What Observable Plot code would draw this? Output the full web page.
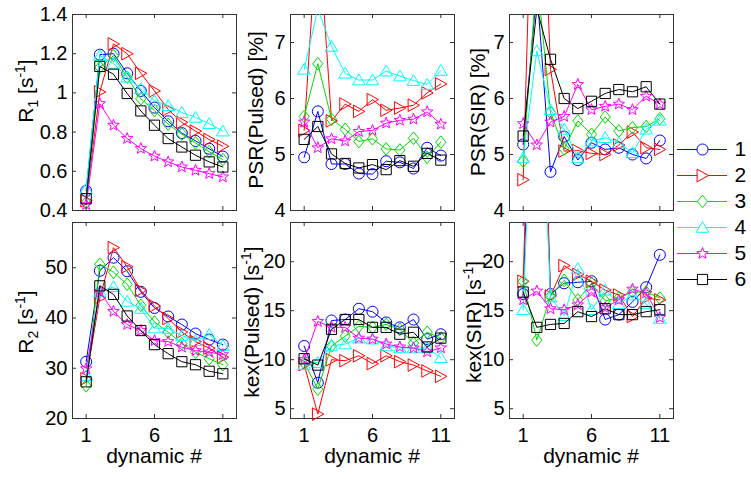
<!DOCTYPE html>
<html><head><meta charset="utf-8">
<script src="https://cdn.jsdelivr.net/npm/d3@7"></script>
<script src="https://cdn.jsdelivr.net/npm/@observablehq/plot@0.6"></script>
<style>
html,body{margin:0;padding:0;background:#fff;overflow:hidden}
#chart{position:relative;width:751px;height:479px;font-family:"Liberation Sans",Arial,Helvetica,sans-serif}
#chart svg{position:absolute;overflow:visible}
</style></head><body><div id="chart"></div>
<script>
// ---------- data ----------
const dynamics = [1,2,3,4,5,6,7,8,9,10,11];
const seriesNames = ["1","2","3","4","5","6"];
const seriesColors = ["#0000ff","#ff0000","#00dd00","#00ffff","#ff00ff","#000000"];
const xTicks = [1,6,11];

const R1 = [
  [0.50,1.195,1.20,1.10,1.01,0.925,0.855,0.795,0.755,0.715,0.675],
  [0.45,1.005,1.25,1.20,1.10,1.01,0.915,0.85,0.805,0.762,0.728],
  [0.44,1.13,1.19,1.08,0.97,0.91,0.84,0.79,0.745,0.70,0.66],
  [0.51,1.19,1.15,1.08,1.02,0.96,0.935,0.90,0.875,0.843,0.805],
  [0.43,0.945,0.835,0.767,0.716,0.677,0.648,0.622,0.605,0.588,0.571],
  [0.46,1.135,1.095,0.997,0.908,0.835,0.767,0.724,0.682,0.648,0.622]
];
const PSR_PULSED = [
  [4.95,5.77,4.83,4.83,4.66,4.65,4.88,4.86,4.75,5.12,4.98],
  [5.43,9.2,5.6,5.9,5.77,5.98,5.79,5.83,5.88,6.1,6.26],
  [5.68,6.62,5.63,5.45,5.23,5.28,5.1,5.08,5.29,4.95,5.22],
  [6.52,7.6,6.93,6.45,6.33,6.33,6.49,6.4,6.32,6.25,6.5],
  [5.58,5.12,5.28,5.24,5.41,5.43,5.56,5.61,5.63,5.76,5.54],
  [5.27,5.5,5.01,4.84,4.76,4.82,4.73,4.89,4.79,5.02,4.9]
];
const PSR_SIR = [
  [5.18,7.95,4.69,5.32,4.9,5.21,5.09,5.12,5.0,4.93,5.25],
  [4.55,13.0,6.52,5.06,5.07,5.02,5.0,5.17,5.4,5.12,5.09],
  [4.88,8.2,5.75,5.1,5.6,5.36,5.67,5.42,5.48,5.5,5.64],
  [4.94,6.85,5.8,5.45,4.94,5.24,5.3,5.21,5.03,5.45,5.61],
  [5.55,5.17,5.58,5.68,6.25,5.8,5.86,5.9,5.8,6.04,5.9],
  [5.33,7.6,6.7,6.0,5.82,5.95,6.09,6.16,6.12,6.21,5.9]
];
const R2 = [
  [31.3,49.4,52.0,49.3,45.2,42.0,40.3,38.7,36.9,35.7,34.7],
  [27.9,44.0,54.0,50.2,45.5,42.4,39.9,37.2,35.3,34.0,32.2],
  [26.5,50.7,49.1,46.7,42.5,39.2,37.2,34.9,33.2,31.9,30.7],
  [28.5,45.2,46.2,43.3,41.9,38.0,37.9,36.5,35.5,36.7,34.5],
  [29.9,45.2,41.3,38.7,37.5,35.5,35.3,34.2,33.5,33.2,32.7],
  [27.3,46.4,44.7,40.4,37.5,34.7,32.9,31.3,30.7,29.4,28.9]
];
const KEX_PULSED = [
  [11.4,7.65,14.0,14.1,15.2,14.9,13.8,13.3,14.1,12.1,12.6],
  [9.5,4.45,10.0,9.9,10.4,9.6,10.4,9.8,9.45,8.85,8.3],
  [9.7,7.0,11.4,12.4,13.4,13.3,13.6,13.1,11.7,12.8,12.2],
  [9.5,9.7,11.4,11.6,12.2,12.1,11.4,11.2,11.2,11.2,10.2],
  [10.0,13.9,13.3,13.3,12.2,12.1,11.6,11.3,11.2,10.8,11.2],
  [10.1,9.45,13.1,14.1,14.1,13.3,13.3,12.6,12.8,11.3,12.2]
];
const KEX_SIR = [
  [16.7,55,16.7,17.8,17.9,18.0,14.1,14.6,15.9,17.4,20.7],
  [18.0,65,16.5,19.6,18.7,18.0,17.1,16.6,14.4,16.3,16.1],
  [18.0,12.0,16.5,18.1,16.1,17.8,16.0,16.3,16.9,16.9,16.3],
  [15.1,50,16.4,14.5,19.3,15.1,17.1,15.7,16.6,15.7,14.2],
  [16.1,17.0,15.2,15.1,15.6,16.9,15.3,16.1,17.2,16.8,14.3],
  [16.9,13.3,13.6,13.7,14.9,14.4,15.2,14.6,14.6,14.9,15.1]
];
const R1_TICKS = [0.4,0.6,0.8,1,1.2,1.4];
const PSR_TICKS = [4,5,6,7];
const R2_TICKS = [20,30,40,50];
const KEX_TICKS = [5,10,15,20];

// ---------- marker symbols ----------
const rad = s => Math.sqrt(s / Math.PI);
const symCircle = {draw(c, s){const r = rad(s)*0.92; c.moveTo(r,0); c.arc(0,0,r,0,2*Math.PI); c.closePath();}};
const symTriRight = {draw(c, s){const r = rad(s); c.moveTo(r,0); c.lineTo(-r*0.9,-r*1.05); c.lineTo(-r*0.9,r*1.05); c.closePath();}};
const symDiamond = {draw(c, s){const r = rad(s); c.moveTo(0,-r*1.05); c.lineTo(r*0.85,0); c.lineTo(0,r*1.05); c.lineTo(-r*0.85,0); c.closePath();}};
const symTriUp = {draw(c, s){const r = rad(s); c.moveTo(0,-r); c.lineTo(r*1.05,r*0.8); c.lineTo(-r*1.05,r*0.8); c.closePath();}};
const symStar = {draw(c, s){const r = rad(s); for (let k = 0; k < 10; k++){const a = -Math.PI/2 + k*Math.PI/5; const rr = k%2 ? r*0.42 : r; const px = rr*Math.cos(a), py = rr*Math.sin(a); if (k) c.lineTo(px,py); else c.moveTo(px,py);} c.closePath();}};
const symSquare = {draw(c, s){const h = rad(s)*0.85; c.rect(-h,-h,2*h,2*h);}};
const seriesSymbols = [symCircle, symTriRight, symDiamond, symTriUp, symStar, symSquare];

// ---------- layout ----------
const FONT = '"Liberation Sans", Arial, Helvetica, sans-serif';
const AXC = "#333";
const FW = 164, FH = 196;
const colLeft = [72, 290, 509];
const rowTop = [14, 222];
const M = {l: 60, r: 12, t: 12, b: 40};
const chart = document.getElementById("chart");

const panels = [
  {data: R1, yDomain: [0.4,1.4], yTicks: R1_TICKS, col: 0, row: 0},
  {data: PSR_PULSED, yDomain: [4,7.5], yTicks: PSR_TICKS, col: 1, row: 0},
  {data: PSR_SIR, yDomain: [4,7.5], yTicks: PSR_TICKS, col: 2, row: 0},
  {data: R2, yDomain: [20,59], yTicks: R2_TICKS, col: 0, row: 1},
  {data: KEX_PULSED, yDomain: [4,24], yTicks: KEX_TICKS, col: 1, row: 1},
  {data: KEX_SIR, yDomain: [4,24], yTicks: KEX_TICKS, col: 2, row: 1}
];

function makePanel(p) {
  const [y0, y1] = p.yDomain;
  const marks = [Plot.frame({stroke: AXC, strokeWidth: 1})];
  for (let i = 0; i < 6; i++) {
    const sd = p.data[i].map((v, j) => ({x: dynamics[j], y: v}));
    marks.push(Plot.line(sd, {x: "x", y: "y", stroke: seriesColors[i], strokeWidth: 1, clip: true}));
    marks.push(Plot.dot(sd.filter(d => d.y >= y0 && d.y <= y1), {x: "x", y: "y", symbol: seriesSymbols[i], r: 6, stroke: seriesColors[i], fill: "none", strokeWidth: 1}));
  }
  marks.push(
    Plot.tickX(xTicks, {x: d => d, insetTop: FH - 4, stroke: AXC}),
    Plot.tickX(xTicks, {x: d => d, insetBottom: FH - 4, stroke: AXC}),
    Plot.tickY(p.yTicks, {y: d => d, insetRight: FW - 4, stroke: AXC}),
    Plot.tickY(p.yTicks, {y: d => d, insetLeft: FW - 4, stroke: AXC}),
    Plot.axisY({ticks: p.yTicks, tickSize: 0, tickPadding: 5, tickFormat: d => String(d), label: null})
  );
  if (p.row === 1) marks.push(Plot.axisX({ticks: xTicks, tickSize: 0, tickPadding: 9, tickFormat: d => String(d), label: null}));
  const svg = Plot.plot({
    width: M.l + FW + M.r, height: M.t + FH + M.b,
    marginLeft: M.l, marginRight: M.r, marginTop: M.t, marginBottom: M.b,
    x: p.row === 1 ? {domain: [0,12]} : {domain: [0,12], axis: null},
    y: {domain: p.yDomain},
    style: {background: "transparent", overflow: "visible", fontSize: "20px", fontFamily: FONT, color: "#000"},
    marks
  });
  svg.style.left = (colLeft[p.col] - M.l) + "px";
  svg.style.top = (rowTop[p.row] - M.t) + "px";
  chart.appendChild(svg);
}
panels.forEach(makePanel);

// ---------- legend ----------
const legMarks = [];
seriesNames.forEach((n, i) => {
  legMarks.push(Plot.ruleY([n], {y: d => d, stroke: seriesColors[i], strokeWidth: 1}));
  legMarks.push(Plot.dot([n], {y: d => d, symbol: seriesSymbols[i], r: 6, stroke: seriesColors[i], fill: "white", strokeWidth: 1}));
});
legMarks.push(Plot.text(seriesNames, {y: d => d, text: d => d, frameAnchor: "right", textAnchor: "start", dx: 7, fontSize: 21}));
const legend = Plot.plot({
  width: 97, height: 172, marginLeft: 17, marginRight: 30, marginTop: 20, marginBottom: 20,
  x: {domain: [0,1], axis: null},
  y: {type: "point", domain: seriesNames, padding: 0, axis: null},
  style: {background: "transparent", overflow: "visible", fontSize: "20px", fontFamily: FONT, color: "#000"},
  marks: legMarks
});
legend.style.left = "660px"; legend.style.top = "128px";
chart.appendChild(legend);

// ---------- axis titles ----------
const ov = d3.select(chart).append("svg").attr("width", 751).attr("height", 479)
  .style("left", "0px").style("top", "0px").style("pointer-events", "none")
  .attr("font-family", FONT).attr("font-size", 21).attr("fill", "#000");

const yLabels = [
  {x: 33, y: 91, parts: [["R"],["1","sub"],[" [s"],["-1","sup"],["]"]]},
  {x: 263, y: 110, parts: [["PSR(Pulsed) [%]"]]},
  {x: 485, y: 112, parts: [["PSR(SIR) [%]"]]},
  {x: 33, y: 322, parts: [["R"],["2","sub"],[" [s"],["-1","sup"],["]"]]},
  {x: 259, y: 322, parts: [["kex(Pulsed) [s"],["-1","sup"],["]"]]},
  {x: 481, y: 322, parts: [["kex(SIR) [s"],["-1","sup"],["]"]]}
];
yLabels.forEach(l => {
  const t = ov.append("text").attr("text-anchor", "middle")
    .attr("transform", `translate(${l.x},${l.y}) rotate(-90)`);
  let shift = 0;
  l.parts.forEach(([s, k]) => {
    const target = k === "sub" ? 5 : k === "sup" ? -8 : 0;
    const ts = t.append("tspan").text(s).attr("dy", target - shift);
    if (k) ts.attr("font-size", 14);
    shift = target;
  });
});
const xLabelX = [154, 372, 591];
xLabelX.forEach(x => ov.append("text").attr("x", x).attr("y", 463).attr("text-anchor", "middle").text("dynamic #"));
</script></body></html>
